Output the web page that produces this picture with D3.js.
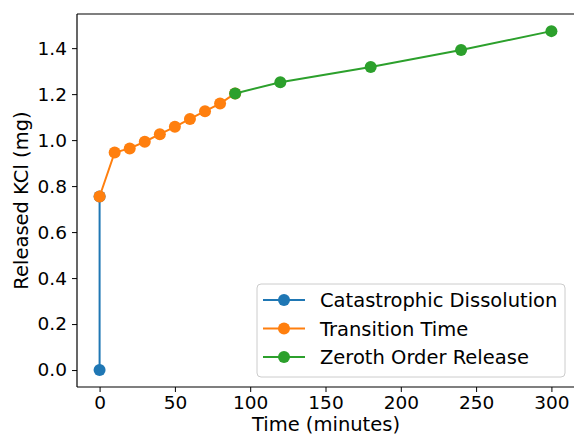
<!DOCTYPE html>
<html>
<head>
<meta charset="utf-8">
<script src="https://cdn.jsdelivr.net/npm/d3@7"></script>
<style>
  html, body { margin: 0; padding: 0; background: #fff; }
  svg { display: block; font-family: "DejaVu Sans", sans-serif; }
</style>
</head>
<body>
<svg id="chart" width="574" height="437"></svg>
<script>
// Release phases of KCl over time
const seriesNames = ["Catastrophic Dissolution", "Transition Time", "Zeroth Order Release"];
const seriesColors = ["#1f77b4", "#ff7f0e", "#2ca02c"];

const catastrophicTime = [0, 0];
const catastrophicKCl = [0.0, 0.755];

const transitionTime = [0, 10, 20, 30, 40, 50, 60, 70, 80, 90];
const transitionKCl = [0.755, 0.946, 0.964, 0.993, 1.026, 1.058, 1.092, 1.126, 1.159, 1.203];

const zerothTime = [90, 120, 180, 240, 300];
const zerothKCl = [1.203, 1.252, 1.318, 1.392, 1.474];

const xTicks = [0, 50, 100, 150, 200, 250, 300];
const yTicks = [0.0, 0.2, 0.4, 0.6, 0.8, 1.0, 1.2, 1.4];

const svg = d3.select("#chart");
const plotLeft = 77, plotRight = 574, plotTop = 14, plotBottom = 387;
const tickFont = 18.5, labelFont = 19.5;

const x = d3.scaleLinear().domain([-15, 315]).range([plotLeft, plotRight]);
const y = d3.scaleLinear().domain([-0.0737, 1.5485]).range([plotBottom, plotTop]);

const series = [
  { t: catastrophicTime, v: catastrophicKCl },
  { t: transitionTime, v: transitionKCl },
  { t: zerothTime, v: zerothKCl }
].map((s, i) => ({
  name: seriesNames[i],
  color: seriesColors[i],
  pts: s.t.map((t, j) => [t, s.v[j]])
}));

// Axes
const xAxis = svg.append("g")
  .attr("transform", `translate(0,${plotBottom})`)
  .call(d3.axisBottom(x).tickValues(xTicks).tickFormat(d3.format("d")).tickSizeOuter(0).tickSize(5).tickPadding(4));
const yAxis = svg.append("g")
  .attr("transform", `translate(${plotLeft},0)`)
  .call(d3.axisLeft(y).tickValues(yTicks).tickFormat(d3.format(".1f")).tickSizeOuter(0).tickSize(5).tickPadding(5));

[xAxis, yAxis].forEach(g => {
  g.select(".domain").remove();
  g.selectAll("line").attr("stroke", "#000").attr("stroke-width", 1);
  g.selectAll("text").attr("font-size", tickFont).attr("fill", "#000")
    .attr("font-family", "DejaVu Sans, sans-serif");
});

// Spines
svg.append("line").attr("x1", plotLeft).attr("x2", plotLeft).attr("y1", plotTop).attr("y2", plotBottom)
  .attr("stroke", "#000").attr("stroke-width", 1.2);
svg.append("line").attr("x1", plotLeft).attr("x2", plotRight).attr("y1", plotBottom).attr("y2", plotBottom)
  .attr("stroke", "#000").attr("stroke-width", 1.2);
svg.append("line").attr("x1", plotLeft).attr("x2", plotRight).attr("y1", plotTop).attr("y2", plotTop)
  .attr("stroke", "#000").attr("stroke-width", 1.2);

// Lines and markers
const line = d3.line().x(d => x(d[0])).y(d => y(d[1]));
series.forEach(s => {
  svg.append("path").datum(s.pts)
    .attr("d", line).attr("fill", "none")
    .attr("stroke", s.color).attr("stroke-width", 2);
  svg.append("g").selectAll("circle").data(s.pts).join("circle")
    .attr("cx", d => x(d[0])).attr("cy", d => y(d[1]))
    .attr("r", 6).attr("fill", s.color);
});

// Axis labels
svg.append("text").attr("x", 326).attr("y", 431)
  .attr("text-anchor", "middle").attr("font-size", labelFont).text("Time (minutes)");
svg.append("text")
  .attr("transform", `translate(28,${(plotTop + plotBottom) / 2}) rotate(-90)`)
  .attr("text-anchor", "middle").attr("font-size", labelFont).text("Released KCl (mg)");

// Legend
const lg = svg.append("g").attr("transform", "translate(257,284)");
lg.append("rect").attr("width", 308).attr("height", 93).attr("rx", 4)
  .attr("fill", "#fff").attr("fill-opacity", 0.8)
  .attr("stroke", "#ccc").attr("stroke-width", 1);
series.forEach((s, i) => {
  const cy = 16 + i * 28.5;
  lg.append("line").attr("x1", 6).attr("x2", 48).attr("y1", cy).attr("y2", cy)
    .attr("stroke", s.color).attr("stroke-width", 2);
  lg.append("circle").attr("cx", 27).attr("cy", cy).attr("r", 6).attr("fill", s.color);
  lg.append("text").attr("x", 63).attr("y", cy + 7).attr("font-size", labelFont).text(s.name);
});
</script>
</body>
</html>
